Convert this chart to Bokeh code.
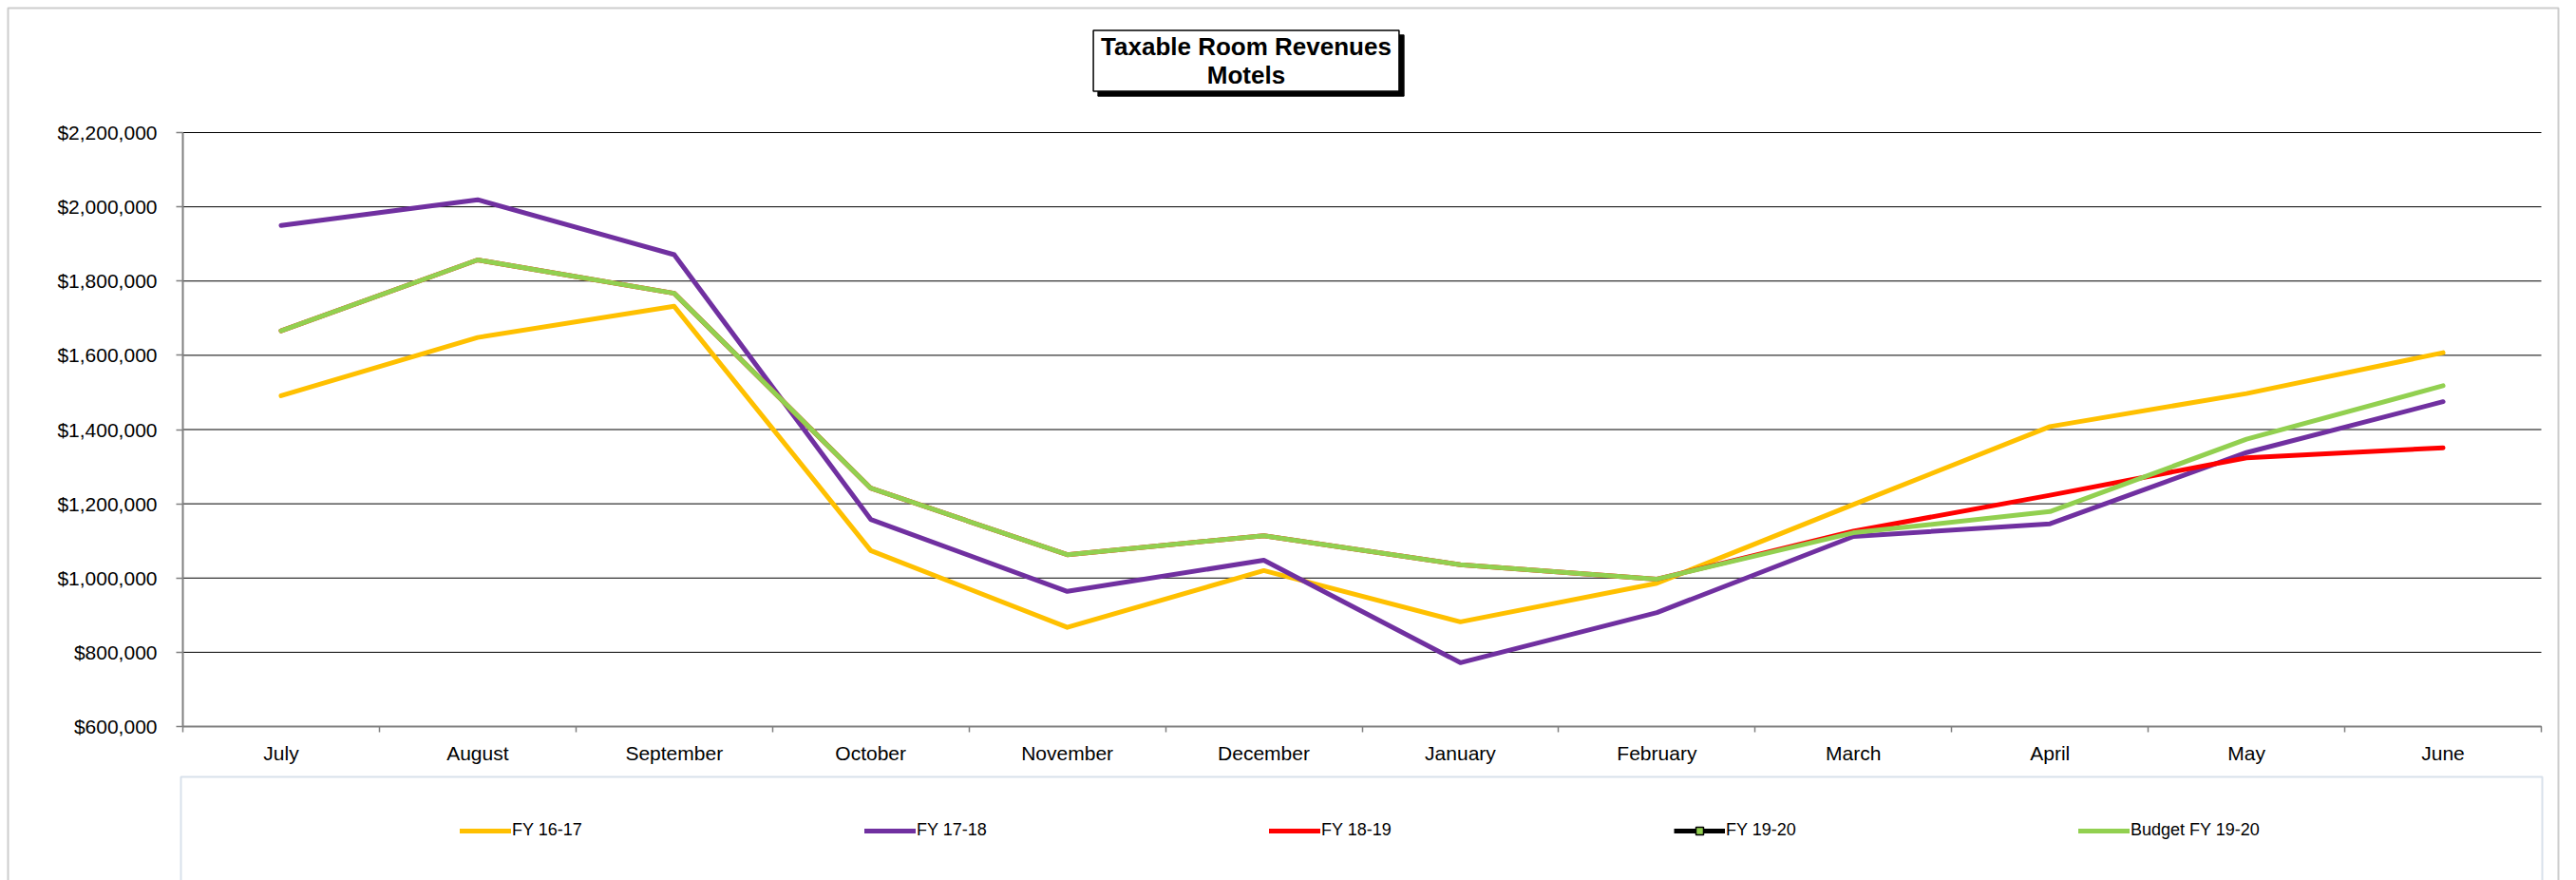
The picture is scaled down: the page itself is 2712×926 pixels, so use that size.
from bokeh.plotting import figure
from bokeh.models import (ColumnDataSource, Range1d, FixedTicker, NumeralTickFormatter,
                          Legend, LegendItem, Label, BoxAnnotation)
from bokeh.embed import file_html
from bokeh.resources import INLINE

months = ["July", "August", "September", "October", "November", "December",
          "January", "February", "March", "April", "May", "June"]
fy1617 = [1491000, 1648000, 1732000, 1074000, 867000, 1020000,
          882000, 986000, 1198000, 1408000, 1497000, 1607000]
fy1718 = [1950000, 2019000, 1871000, 1158000, 964000, 1048000,
          772000, 907000, 1112000, 1146000, 1338000, 1475000]
fy1819 = [1666000, 1857000, 1767000, 1242000, 1063000, 1114000,
          1036000, 997000, 1126000, 1223000, 1324000, 1351000]
fy1920 = [None] * 12   # no values reported yet
budget1920 = [1666000, 1857000, 1767000, 1242000, 1063000, 1114000,
              1036000, 997000, 1122000, 1179000, 1374000, 1518000]
y_ticks = [600000, 800000, 1000000, 1200000, 1400000, 1600000, 1800000, 2000000, 2200000]
title_text = "Taxable Room Revenues\nMotels"

FONT = "Liberation Sans"
W, H = 2712, 926
PL, PR, PT, PB = 192, 2675, 139, 764   # plot area in canvas pixels

n = len(months)
xs = [i + 0.5 for i in range(n)]
ymin, ymax = y_ticks[0], y_ticks[-1]
xpp = n / (PR - PL)                 # data units per pixel (x)
ypp = (ymax - ymin) / (PB - PT)     # data units per pixel (y)
x_range = Range1d(0 - PL * xpp, n + (W - PR) * xpp)
y_range = Range1d(ymin - (H - PB) * ypp, ymax + PT * ypp)

p = figure(width=W, height=H, output_backend="svg", toolbar_location=None,
           x_range=x_range, y_range=y_range,
           min_border_left=0, min_border_right=0, min_border_top=0, min_border_bottom=0)
p.background_fill_color = "white"
p.border_fill_color = "white"
p.outline_line_color = None
p.xgrid.grid_line_color = None
p.ygrid.grid_line_color = None

# horizontal gridlines across the plot area only
p.segment(x0=[0] * len(y_ticks), x1=[n] * len(y_ticks), y0=y_ticks, y1=y_ticks,
          line_color="black", line_width=1)

# axes (positioned at the plot-area edges)
p.xaxis.fixed_location = ymin
p.yaxis.fixed_location = 0
p.xaxis.bounds = (0, n)
p.yaxis.bounds = (ymin, ymax)
p.xaxis.ticker = FixedTicker(ticks=xs, minor_ticks=list(range(n + 1)))
p.xaxis.major_label_overrides = {x: m for x, m in zip(xs, months)}
p.xaxis.major_tick_line_color = None
p.xaxis.major_tick_out = 0
p.xaxis.major_tick_in = 0
p.xaxis.minor_tick_out = 6
p.xaxis.minor_tick_in = 0
p.xaxis.minor_tick_line_color = "#808080"
p.xaxis.minor_tick_line_width = 1.5
p.xaxis.major_label_standoff = 10
p.yaxis.ticker = FixedTicker(ticks=y_ticks, minor_ticks=[])
p.yaxis.formatter = NumeralTickFormatter(format="$0,0")
p.yaxis.major_tick_out = 7
p.yaxis.major_tick_in = 0
p.yaxis.major_tick_line_color = "#808080"
p.yaxis.major_tick_line_width = 1.5
p.yaxis.major_label_standoff = 20
for ax in (p.xaxis, p.yaxis):
    ax.axis_line_color = "#808080"
    ax.axis_line_width = 2
    ax.major_label_text_font = FONT
    ax.major_label_text_font_size = "21px"
    ax.major_label_text_color = "black"

LW = 5
series = [("FY 16-17", fy1617, "#FFC000"),
          ("FY 17-18", fy1718, "#7030A0"),
          ("FY 18-19", fy1819, "#FF0000")]
items = []
for name, vals, col in series:
    src = ColumnDataSource(dict(x=xs[:len(vals)], y=vals))
    r = p.line("x", "y", source=src, line_color=col, line_width=LW,
               line_cap="round", line_join="round")
    items.append(LegendItem(label=name, renderers=[r]))

y20 = [float("nan") if v is None else v for v in fy1920]
src20 = ColumnDataSource(dict(x=xs[:len(y20)], y=y20))
r20l = p.line("x", "y", source=src20, line_color="black", line_width=LW)
r20m = p.scatter("x", "y", source=src20, marker="square", size=9,
                 fill_color="#92D050", line_color="black", line_width=1.5)
items.append(LegendItem(label="FY 19-20", renderers=[r20l, r20m]))

srcb = ColumnDataSource(dict(x=xs[:len(budget1920)], y=budget1920))
rb = p.line("x", "y", source=srcb, line_color="#92D050", line_width=LW,
            line_cap="round", line_join="round")
items.append(LegendItem(label="Budget FY 19-20", renderers=[rb]))

# legend frame box and outer chart border (screen units: from bottom-left of canvas)
p.add_layout(BoxAnnotation(left=190, right=2676, top=H - 817, bottom=-20,
                           left_units="screen", right_units="screen",
                           top_units="screen", bottom_units="screen",
                           fill_color=None, fill_alpha=0,
                           line_color="#7F9BBD", line_width=2))
p.add_layout(BoxAnnotation(left=8, right=2693, top=H - 8, bottom=-20,
                           left_units="screen", right_units="screen",
                           top_units="screen", bottom_units="screen",
                           fill_color=None, fill_alpha=0,
                           line_color="#555555", line_width=2))

legend = Legend(items=items, orientation="horizontal", location=(484, H - 884),
                padding=0, margin=0, spacing=3, glyph_width=54, glyph_height=20,
                label_width=368, label_height=20, label_standoff=1,
                label_text_font=FONT, label_text_font_size="18px",
                label_text_color="black", border_line_color=None,
                background_fill_alpha=0)
p.add_layout(legend, "center")

# title box with shadow
for dx, dy, bg in [(5, -5, "black"), (0, 0, "white")]:
    p.add_layout(Label(x=1311.5 + dx, y=H - 63.5 + dy, x_units="screen", y_units="screen",
                       text=title_text, text_align="center", text_baseline="middle",
                       text_font=FONT, text_font_size="26px", text_font_style="bold",
                       text_color="black", text_line_height=1.0,
                       background_fill_color=bg, border_line_color="black",
                       border_line_width=1.5, padding=(8, 2)))

open("out.html", "w").write(file_html(p, INLINE))
